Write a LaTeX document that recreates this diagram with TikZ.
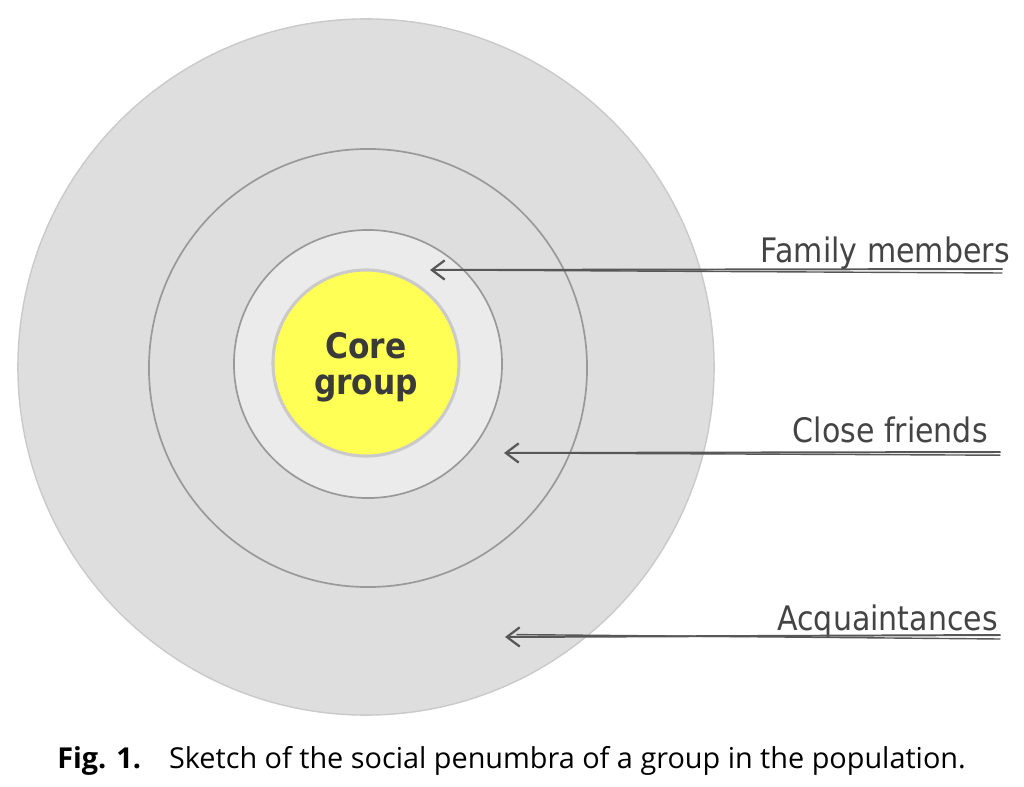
\documentclass[tikz,border=0pt]{standalone}
\usepackage{fontspec}
\usepackage{xcolor}
\usetikzlibrary{arrows.meta, positioning}

\newfontfamily\labelfont{DejaVu Sans}[FakeStretch=0.89]
\newfontfamily\capfont{Open Sans}

\definecolor{ringfill}{HTML}{DEDEDE}
\definecolor{innerfill}{HTML}{EBEBEB}
\definecolor{ringline}{HTML}{999999}
\definecolor{paleline}{HTML}{CACACA}
\definecolor{coreyellow}{HTML}{FFFF55}
\definecolor{ink}{HTML}{444444}

\tikzset{
  ring/.style={circle, draw=ringline, line width=1.2pt, inner sep=0pt},
  lbl/.style={font=\labelfont\fontsize{24}{28}\selectfont, text=ink, inner sep=0pt, anchor=base east},
  pen/.style={draw=ink!90, line width=1.4pt, line cap=round, line join=round},
  barb/.style={-{Straight Barb[length=0.32cm, width=0.48cm, line width=1.6pt]}}
}

\begin{document}
\begin{tikzpicture}[x=0.025cm, y=-0.025cm]
        \useasboundingbox[fill=white] (0,0) rectangle (1024,787);

        \node[circle, draw=paleline, fill=ringfill, line width=1pt, minimum size=17.4cm] (acq) at (366,367) {};
        \node[ring, minimum size=10.95cm] (friends) at (368,368) {};
        \node[ring, fill=innerfill, minimum size=6.7cm] (family) at (368,364) {};
        \node[circle, draw=paleline, fill=coreyellow, line width=2.2pt, minimum size=4.65cm] (core) at (366,363) {};
        \node[align=center, text=ink!85!black, font=\labelfont\bfseries\fontsize{25}{25.6}\selectfont] (coretext)
              at ([yshift=-0.1cm]core.center) {Core\\group};

        \node[lbl] (famlbl) at (1010,263) {Family members};
        \node[lbl] (frlbl) at (988,442) {Close friends};
        \node[lbl] (acqlbl) at (998,630) {Acquaintances};

        \coordinate (famend) at (1002,269);
        \coordinate (famtip) at (430,270);
        \coordinate (frend) at (1000,452);
        \coordinate (frtip) at (504,453);
        \coordinate (acqend) at (1000,635);
        \coordinate (acqtip) at (505,637);

        \draw[pen, barb] (famend) -- (famtip);
        \draw[pen, line width=1pt] ([yshift=-0.1cm]famend) -- ([xshift=0.3cm]famtip);
        \draw[pen, barb] (frend) -- (frtip);
        \draw[pen, line width=1pt] ([yshift=-0.08cm]frend) -- ([xshift=0.3cm]frtip);
        \draw[pen, barb] (acqend) -- (acqtip);
        \draw[pen, line width=1pt] ([yshift=-0.1cm]acqend) -- ([xshift=0.3cm, yshift=0.06cm]acqtip);

        \node[anchor=base west, inner sep=0pt, text=black, font=\capfont\fontsize{20.5}{22}\selectfont] (caption) at (57,768)
            {\textbf{Fig. 1.}\hspace{0.7cm}Sketch of the social penumbra of a group in the population.};
\end{tikzpicture}
\end{document}
